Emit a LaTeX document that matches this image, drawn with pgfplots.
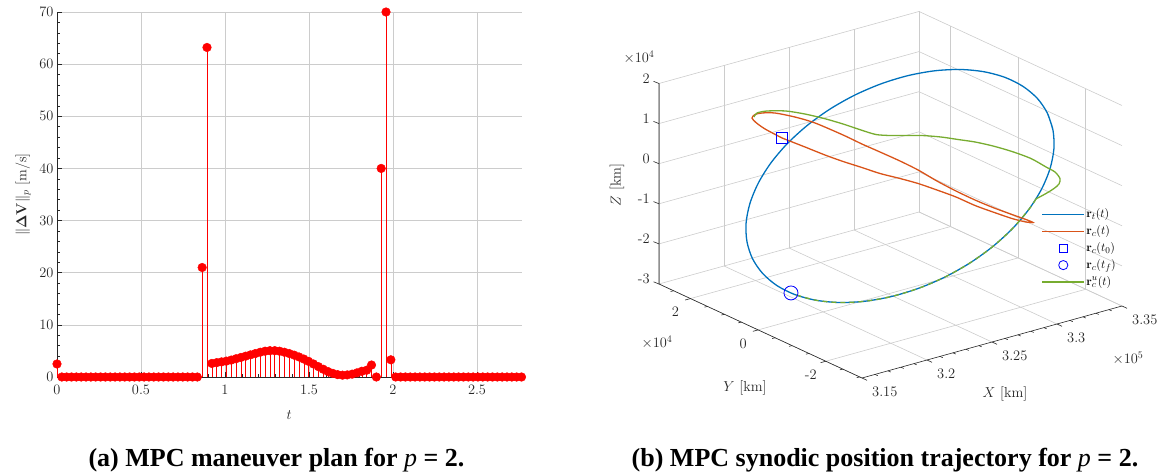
\documentclass[border=0pt]{standalone}
\usepackage{pgfplots}
\pgfplotsset{compat=1.18}
\usepackage[no-math]{fontspec}
\newfontfamily\capfont{Liberation Serif}

\definecolor{mlblue}{rgb}{0,0.447,0.741}
\definecolor{mlorange}{rgb}{0.85,0.325,0.098}
\definecolor{mlgreen}{rgb}{0.466,0.674,0.188}
\definecolor{axgray}{rgb}{0.15,0.15,0.15}
\newcommand\tickfont{\fontsize{14.5}{17}\selectfont}

\pgfplotsset{
  legline/.style={legend image code/.code={\draw[##1] (0pt,0pt) -- (42pt,0pt);}},
  legsquare/.style={legend image code/.code={\draw[##1, mark size=3.7pt] plot coordinates {(21pt,0pt)};}},
  legcircle/.style={legend image code/.code={\draw[##1, mark size=4.6pt] plot coordinates {(21pt,0pt)};}},
}

\begin{document}
\begin{tikzpicture}[x=1pt,y=1pt]
\useasboundingbox (0,0) rectangle (1166,-473);

% ---------------- (a) maneuver magnitudes ----------------
\begin{axis}[
  at={(57pt,-377pt)}, anchor=south west,
  scale only axis, width=464.5pt, height=365pt,
  xmin=0, xmax=2.7648, ymin=0, ymax=70,
  axis x line*=bottom, axis y line*=left,
  axis line style={axgray, line width=0.6pt},
  xtick={0,0.5,1,1.5,2,2.5}, ytick={0,10,...,70},
  minor x tick num=4, minor y tick num=4,
  tick align=inside, major tick length=5pt, minor tick length=3pt,
  tick style={axgray, line width=0.6pt},
  grid=major, major grid style={black!20, line width=0.6pt},
  ticklabel style={font=\tickfont, text=axgray},
  xticklabel style={yshift=-5pt},
  label style={font=\tickfont, text=axgray},
  xlabel style={yshift=-9pt}, ylabel shift=2pt,
  xlabel={$t$}, ylabel={$\|\mathbf{\Delta V}\|_p$ $[\mathrm{m/s}]$},
  clip=false,
]
\addplot[ycomb, red, line width=0.5pt, mark=*, mark size=4.3pt,
  mark options={fill=red, draw=red}] table {
t dv
0.0000 2.5
0.0288 0
0.0576 0
0.0864 0
0.1152 0
0.1440 0
0.1728 0
0.2016 0
0.2304 0
0.2592 0
0.2880 0
0.3168 0
0.3456 0
0.3744 0
0.4032 0
0.4320 0
0.4608 0
0.4896 0
0.5184 0
0.5472 0
0.5760 0
0.6048 0
0.6336 0
0.6624 0
0.6912 0
0.7200 0
0.7488 0
0.7776 0
0.8064 0
0.8352 0
0.8640 21.0
0.8928 63.2
0.9216 2.6
0.9504 2.75
0.9792 2.9
1.0080 3.05
1.0368 3.25
1.0656 3.5
1.0944 3.75
1.1232 4.0
1.1520 4.25
1.1808 4.5
1.2096 4.75
1.2384 4.95
1.2672 5.05
1.2960 5.05
1.3248 4.95
1.3536 4.75
1.3824 4.5
1.4112 4.2
1.4400 3.85
1.4688 3.45
1.4976 3.0
1.5264 2.5
1.5552 2.0
1.5840 1.5
1.6128 1.05
1.6416 0.7
1.6704 0.45
1.6992 0.35
1.7280 0.4
1.7568 0.55
1.7856 0.8
1.8144 1.1
1.8432 1.3
1.8720 2.3
1.9008 0
1.9296 40.0
1.9584 70.0
1.9872 3.3
2.0160 0
2.0448 0
2.0736 0
2.1024 0
2.1312 0
2.1600 0
2.1888 0
2.2176 0
2.2464 0
2.2752 0
2.3040 0
2.3328 0
2.3616 0
2.3904 0
2.4192 0
2.4480 0
2.4768 0
2.5056 0
2.5344 0
2.5632 0
2.5920 0
2.6208 0
2.6496 0
2.6784 0
2.7072 0
2.7360 0
2.7648 0
};
\end{axis}

% ---------------- (b) synodic trajectories ----------------
\begin{axis}[
  at={(659pt,-378pt)}, anchor=south west,
  x={(1300pt,360pt)}, y={(-33.83pt,15.67pt)}, z={(0pt,40.1pt)},
  xmin=3.15, xmax=3.35, ymin=-3.07, ymax=2.93, zmin=-3, zmax=2,
  scaled ticks=false,
  axis line style={draw=none},
  xtick={3.15,3.2,3.25,3.3,3.35}, ytick={-2,0,2}, ztick={-3,-2,-1,0,1,2},
  xticklabels={{},{},{},{},{}}, yticklabels={{},{},{}},
  zticklabels={{},{},{},{},{},{}},
  major tick length=0pt, minor tick length=0pt,
  grid=major, major grid style={black!20, line width=0.6pt},
  clip=false,
  legend cell align=left,
  legend style={draw=none, fill=none, inner sep=0pt,
    at={(axis description cs:0.826,0.469)}, anchor=north west,
    font=\fontsize{13}{15}\selectfont,
    nodes={inner sep=1.5pt, text height=10pt, text depth=3.8pt},
    /tikz/every even column/.append style={column sep=2pt}},
]
% orbit of the target
\addplot3[mlblue, line width=1.3pt, smooth, legline] table {
X Y Z
3.3377 -1.3378 1.2416
3.3302 -1.7905 1.0642
3.3205 -2.1913 0.8440
3.3088 -2.5274 0.5875
3.2956 -2.7888 0.3025
3.2813 -2.9677 -0.0019
3.2662 -3.0585 -0.3172
3.2508 -3.0586 -0.6333
3.2357 -2.9677 -0.9407
3.2212 -2.7889 -1.2300
3.2077 -2.5275 -1.4925
3.1959 -2.1914 -1.7203
3.1858 -1.7907 -1.9064
3.1779 -1.3377 -2.0451
3.1725 -0.8466 -2.1321
3.1696 -0.3316 -2.1651
3.1694 0.1915 -2.1428
3.1719 0.7065 -2.0658
3.1769 1.1978 -1.9368
3.1844 1.6505 -1.7594
3.1941 2.0513 -1.5392
3.2058 2.3874 -1.2827
3.2190 2.6488 -0.9977
3.2333 2.8277 -0.6933
3.2484 2.9185 -0.3780
3.2638 2.9186 -0.0619
3.2789 2.8277 0.2455
3.2934 2.6489 0.5348
3.3069 2.3875 0.7973
3.3187 2.0514 1.0251
3.3288 1.6507 1.2112
3.3367 1.1977 1.3499
3.3421 0.7066 1.4369
3.3450 0.1916 1.4699
3.3452 -0.3315 1.4476
3.3428 -0.8465 1.3706
3.3377 -1.3378 1.2416
3.3302 -1.7905 1.0642
};
% controlled chaser
\addplot3[mlorange, line width=1.3pt, smooth, tension=0.45, legline] table {
X Y Z
3.2034 1.3457 0.7804
3.1960 1.5635 0.9863
3.1920 1.6788 1.1385
3.1903 1.7300 1.2464
3.1916 1.6916 1.3370
3.1947 1.6019 1.3820
3.2003 1.4353 1.3962
3.2090 1.1791 1.3183
3.2178 0.9229 1.1905
3.2300 0.5642 0.9219
3.2382 0.3208 0.7183
3.2461 0.0902 0.5384
3.2548 -0.1660 0.3359
3.2627 -0.3966 0.1311
3.2709 -0.6400 -0.1225
3.2792 -0.8834 -0.3510
3.2875 -1.1269 -0.5547
3.2953 -1.3575 -0.7221
3.3036 -1.6009 -0.8759
3.3097 -1.7802 -0.9852
3.3128 -1.8699 -1.0524
3.3097 -1.7802 -1.0476
3.3036 -1.6009 -0.9756
3.2953 -1.3575 -0.8343
3.2875 -1.1269 -0.6919
3.2792 -0.8834 -0.5007
3.2709 -0.6400 -0.3469
3.2627 -0.3966 -0.2056
3.2548 -0.1660 -0.1005
3.2461 0.0902 0.0023
3.2382 0.3208 0.1322
3.2300 0.5642 0.2611
3.2221 0.7948 0.4035
3.2134 1.0510 0.5812
3.2034 1.3457 0.7804
};
% initial and final chaser positions
\addplot3[only marks, mark=square, mark size=5.3pt, blue, line width=0.8pt, legsquare]
  coordinates {(3.2034,1.3457,0.7804)};
\addplot3[only marks, mark=o, mark size=7pt, blue, line width=0.8pt, legcircle]
  coordinates {(3.1694,-0.2257,-2.1647)};
% uncontrolled chaser
\addplot3[mlgreen, line width=1.3pt, smooth, tension=0.45, legline] table {
X Y Z
3.1905 1.68 1.2888
3.1915 1.63 1.3990
3.1953 1.48 1.4733
3.2034 1.23 1.4983
3.2115 0.98 1.4484
3.2197 0.73 1.3611
3.2278 0.48 1.2487
3.2351 0.23 1.1309
3.2414 0.03 1.0399
3.2470 -0.17 1.0434
3.2533 -0.37 1.0646
3.2599 -0.62 1.1032
3.2680 -0.87 1.0908
3.2746 -1.12 1.0671
3.2812 -1.37 1.0434
3.2885 -1.62 0.9756
3.2966 -1.87 0.8634
3.3047 -2.12 0.7135
3.3103 -2.35 0.5416
3.3128 -2.52 0.4608
3.3132 -2.65 0.3454
3.3099 -2.75 0.2778
3.3042 -2.82 0.2437
3.2968 -2.87 0.2055
3.2886 -2.8891 0.1522
};
% uncontrolled chaser riding on the target orbit
\addplot3[mlgreen, line width=1.3pt, smooth, dash pattern=on 5pt off 4pt, forget plot] table {
X Y Z
3.2886 -2.8891 0.1522
3.2813 -2.9677 -0.0019
3.2662 -3.0585 -0.3172
3.2508 -3.0586 -0.6333
3.2357 -2.9677 -0.9407
3.2212 -2.7889 -1.2300
3.2077 -2.5275 -1.4925
3.1959 -2.1914 -1.7203
3.1858 -1.7907 -1.9064
3.1779 -1.3377 -2.0451
3.1725 -0.8466 -2.1321
3.1696 -0.3316 -2.1651
};
\legend{$\mathbf{r}_t(t)$, $\mathbf{r}_c(t)$, $\mathbf{r}_c(t_0)$, $\mathbf{r}_c(t_f)$, $\mathbf{r}_c^u(t)$}
% axis lines
\draw[axgray, line width=0.6pt] (axis cs:3.15,2.93,2) -- (axis cs:3.15,2.93,-3)
  -- (axis cs:3.15,-3.07,-3) -- (axis cs:3.35,-3.07,-3);
% X ticks and labels
\pgfplotsinvokeforeach{3.15,3.2,3.25,3.3,3.35}{
  \draw[axgray, line width=0.6pt] (axis cs:#1,-3.07,-3) -- ++(5pt,-2.3pt);
  \node[anchor=west, font=\tickfont, text=axgray, inner sep=0pt]
    at ([xshift=10pt,yshift=-13.5pt]axis cs:#1,-3.07,-3) {#1};
}
\pgfplotsinvokeforeach{3.16,3.17,3.18,3.19,3.21,3.22,3.23,3.24,3.26,3.27,3.28,3.29,3.31,3.32,3.33,3.34}{
  \draw[axgray, line width=0.6pt] (axis cs:#1,-3.07,-3) -- ++(2.7pt,-1.25pt);
}
% Y ticks and labels
\pgfplotsinvokeforeach{-2,0,2}{
  \draw[axgray, line width=0.6pt] (axis cs:3.15,#1,-3) -- ++(-5.3pt,-1.47pt);
  \node[font=\tickfont, text=axgray, inner sep=0pt]
    at ([xshift=-15pt,yshift=-13.5pt]axis cs:3.15,#1,-3) {#1};
}
\pgfplotsinvokeforeach{-3,-2.5,-1.5,-1,-0.5,0.5,1,1.5,2.5}{
  \draw[axgray, line width=0.6pt] (axis cs:3.15,#1,-3) -- ++(-2.9pt,-0.8pt);
}
% Z ticks and labels
\pgfplotsinvokeforeach{-3,-2,-1,0,1,2}{
  \draw[axgray, line width=0.6pt] (axis cs:3.15,2.93,#1) -- ++(-5.5pt,2.2pt);
  \node[anchor=east, font=\tickfont, text=axgray, inner sep=0pt]
    at ([xshift=-9pt,yshift=5pt]axis cs:3.15,2.93,#1) {#1};
}
\end{axis}

% axis titles and multipliers of panel (b)
\begin{scope}[every node/.style={font=\tickfont, text=axgray}]
\node[rotate=90] at (617,-185) {$Z$ [km]};
\node at (745,-388) {$Y$ [km]};
\node at (1005,-394) {$X$ [km]};
\node at (639,-57) {$\times 10^4$};
\node at (657,-342) {$\times 10^4$};
\node at (1128,-358) {$\times 10^5$};
\end{scope}

% sub-captions
\node[anchor=base, font=\capfont\bfseries\fontsize{26}{30}\selectfont] at (276.5,-466)
  {(a) MPC maneuver plan for {\mdseries\itshape p} = 2.};
\node[anchor=base, font=\capfont\bfseries\fontsize{26}{30}\selectfont] at (885,-466)
  {(b) MPC synodic position trajectory for {\mdseries\itshape p} = 2.};
\end{tikzpicture}
\end{document}
